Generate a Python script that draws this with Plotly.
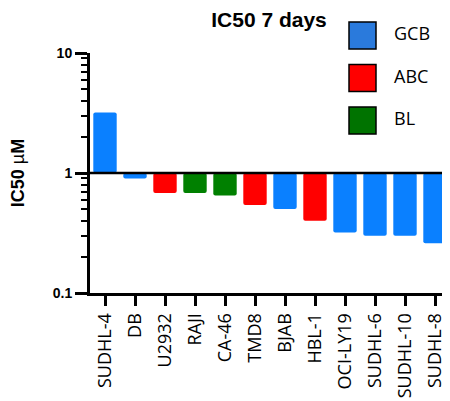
import plotly.graph_objects as go

cell_lines = ["SUDHL-4", "DB", "U2932", "RAJI", "CA-46", "TMD8", "BJAB",
              "HBL-1", "OCI-LY19", "SUDHL-6", "SUDHL-10", "SUDHL-8"]
ic50 = [3.2, 0.90, 0.68, 0.68, 0.65, 0.54, 0.50, 0.40, 0.32, 0.30, 0.30, 0.26]
subtype = ["GCB", "GCB", "ABC", "BL", "BL", "ABC", "GCB", "ABC", "GCB", "GCB", "GCB", "GCB"]

groups = ["GCB", "ABC", "BL"]
bar_colors = {"GCB": "#0a80ff", "ABC": "#ff0000", "BL": "#008000"}
legend_colors = {"GCB": "#2a7adc", "ABC": "#ff0000", "BL": "#007300"}

# page body has an 8px margin; figure is sized/placed to compensate
OFF = 8
W, H = 450 - OFF, 401 - OFF

fig = go.Figure()
fig.add_trace(go.Bar(
    x=cell_lines,
    y=[v - 1 for v in ic50],
    base=[1] * len(ic50),
    marker=dict(color=[bar_colors[s] for s in subtype], line=dict(width=0), cornerradius=2),
    width=0.78,
    showlegend=False,
))

# baseline at 1
fig.add_shape(type="line", xref="paper", yref="y", x0=0, x1=1, y0=1, y1=1,
              line=dict(color="black", width=2.5), layer="above")

# legend boxes (paper coords relative to plot area 90..450 x 53..293 in window)
for i, g in enumerate(groups):
    top = 22 + i * 42.5
    fig.add_shape(type="rect", xref="paper", yref="paper",
                  x0=(349 - 90) / 360, x1=(376 - 90) / 360,
                  y0=(293 - (top + 27)) / 240, y1=(293 - top) / 240,
                  fillcolor=legend_colors[g], line=dict(color="black", width=1.5))
    fig.add_annotation(xref="paper", yref="paper", x=(392 - 90) / 360,
                       y=(293 - (top + 11)) / 240, text=g, showarrow=False,
                       xanchor="left", yanchor="middle",
                       font=dict(family="Open Sans", size=18, color="black"))

fig.update_layout(
    width=W, height=H,
    margin=dict(l=90 - OFF, r=0, t=53 - OFF, b=108, autoexpand=False),
    plot_bgcolor="white", paper_bgcolor="white",
    title=dict(text="<b>IC50 7 days</b>", x=(269 - OFF) / W, xanchor="center",
               y=1 - (20 - OFF) / H, yanchor="middle",
               font=dict(family="Liberation Sans", size=21, color="black")),
)
fig.update_yaxes(
    type="log", range=[-1, 1],
    tickvals=[0.1, 1, 10], ticktext=["<b>0.1</b>", "<b>1</b>", "<b>10</b>"],
    ticks="outside", ticklen=12, tickwidth=2.5, tickcolor="black",
    minor=dict(ticks="outside", ticklen=6, tickwidth=2, tickcolor="black",
               dtick="D1", showgrid=False),
    showline=True, linewidth=3, linecolor="black",
    showgrid=False, zeroline=False,
    tickfont=dict(family="Liberation Sans", size=14, color="black"),
    title=dict(text="<b>IC50 </b>µ<b>M</b>", standoff=30,
               font=dict(family="Liberation Sans", size=18, color="black")),
)
fig.update_xaxes(
    ticks="outside", ticklen=10, tickwidth=2.5, tickcolor="black",
    showline=True, linewidth=3, linecolor="black",
    tickangle=-90, showgrid=False,
    tickfont=dict(family="Open Sans", size=18, color="black"),
    range=[-0.5, 11.5],
)

fig.write_html("out.html")
